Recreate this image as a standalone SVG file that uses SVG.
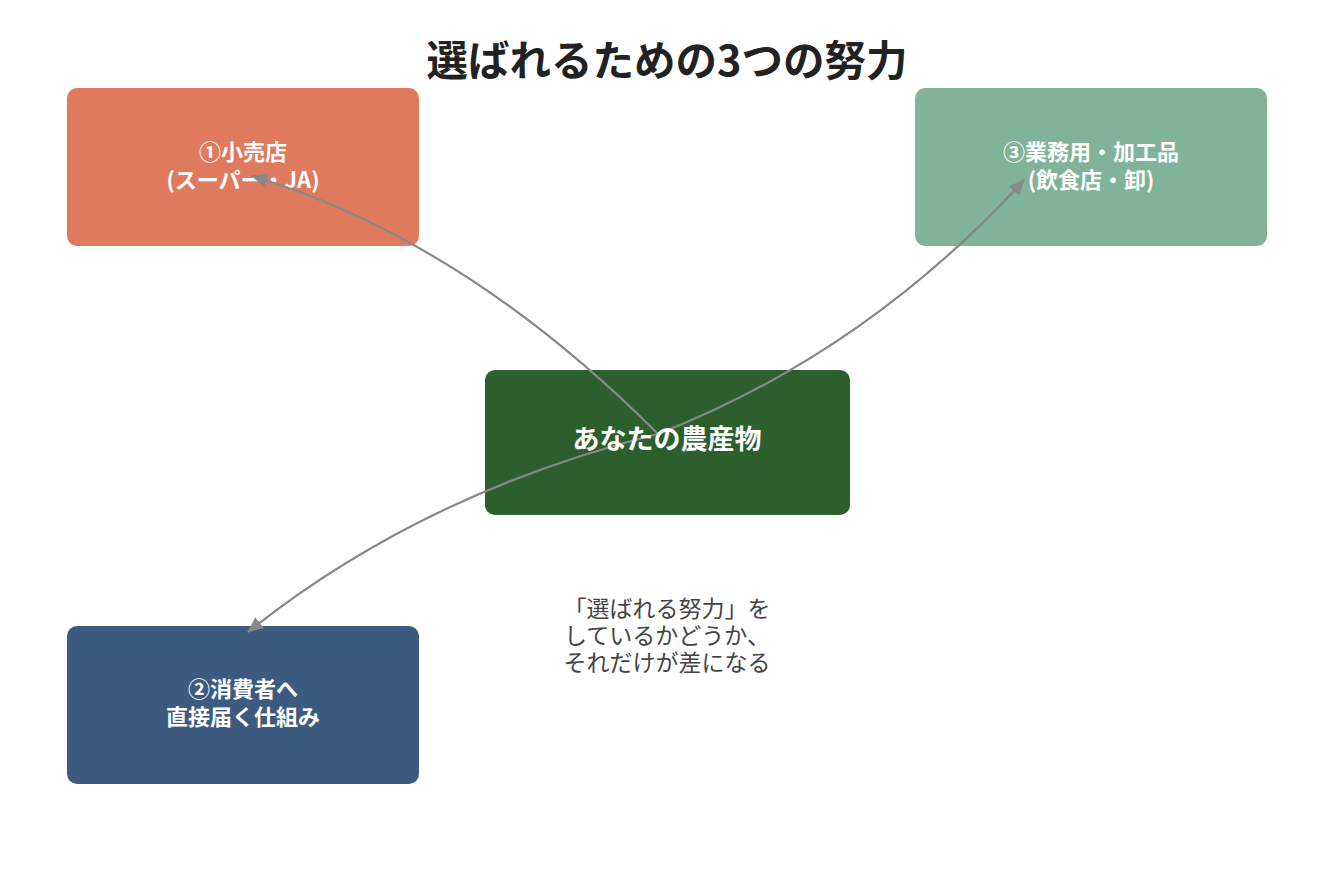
<svg xmlns="http://www.w3.org/2000/svg" width="1335" height="885" viewBox="0 0 1335 885">
<defs>
<style>
.t{font-family:"Noto Sans CJK JP","Noto Sans",sans-serif;}
.title{font-size:41.5px;font-weight:700;fill:#222;}
.nl{font-size:22px;font-weight:700;fill:#fff;}
.cl{font-size:27px;font-weight:700;fill:#fff;}
.note{font-size:23px;fill:#444;}
.edge{fill:none;stroke:#888;stroke-width:2.2;}
</style>
<marker id="ah" markerUnits="userSpaceOnUse" markerWidth="18" markerHeight="16" refX="15" refY="7" orient="auto">
<path d="M0,0 L16,7 L0,14 Z" fill="#888"/>
</marker>
</defs>
<rect width="1335" height="885" fill="#fff"/>
<text class="t title" x="667" y="76" text-anchor="middle">選ばれるための3つの努力</text>
<g id="node-retail">
<rect x="67" y="88" width="352" height="158" rx="10" fill="#E07A5F"/>
<text class="t nl" x="243" y="160" text-anchor="middle">①小売店</text>
<text class="t nl" x="243" y="188" text-anchor="middle">(スーパー・JA)</text>
</g>
<g id="node-business">
<rect x="915" y="88" width="352" height="158" rx="10" fill="#81B29A"/>
<text class="t nl" x="1091" y="160" text-anchor="middle">③業務用・加工品</text>
<text class="t nl" x="1091" y="188" text-anchor="middle">(飲食店・卸)</text>
</g>
<g id="node-consumer">
<rect x="67" y="626" width="352" height="158" rx="10" fill="#3D5A80"/>
<text class="t nl" x="243" y="697" text-anchor="middle">②消費者へ</text>
<text class="t nl" x="243" y="725" text-anchor="middle">直接届く仕組み</text>
</g>
<g id="node-center">
<rect x="485" y="370" width="365" height="145" rx="10" fill="#2D5F2E"/>
</g>
<g id="connectors">
<path class="edge" d="M658,434 Q463,239 252,176" marker-end="url(#ah)"/>
<path class="edge" d="M658,434 Q422,493 248,632" marker-end="url(#ah)"/>
<path class="edge" d="M658,434 Q867,352 1024,180" marker-end="url(#ah)"/>
</g>
<g id="center-label">
<text class="t cl" x="667" y="449" text-anchor="middle">あなたの農産物</text>
</g>
<g id="note">
<text class="t note" x="667" y="617" text-anchor="middle">「選ばれる努力」を</text>
<text class="t note" x="667" y="644" text-anchor="middle">しているかどうか、</text>
<text class="t note" x="667" y="671" text-anchor="middle">それだけが差になる</text>
</g>
</svg>
